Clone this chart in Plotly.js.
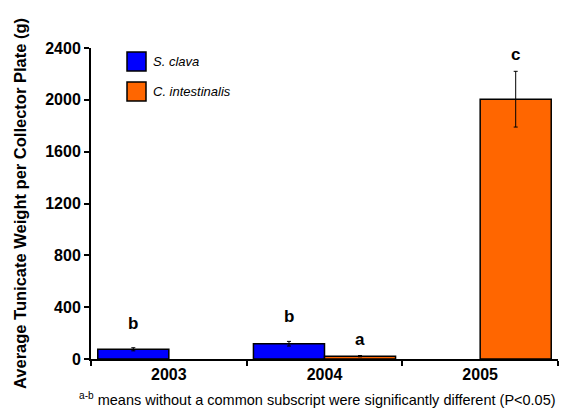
<!DOCTYPE html>
<html><head><meta charset="utf-8">
<script src="https://cdn.plot.ly/plotly-3.0.1.min.js"></script>
<style>body{margin:0;background:#fff}</style>
</head><body>
<div id="chart" style="width:570px;height:410px"></div>
<script>
const years = ['2003', '2004', '2005'];
const seriesNames = ['S. clava', 'C. intestinalis'];
const sClava = [75, 118, 0];
const sClavaErr = [12, 18, 0];
const cIntest = [0, 22, 2005];
const cIntestErr = [0, 5, 215];
const sClavaLetters = ['b', 'b', ''];
const cIntestLetters = ['', 'a', 'c'];
const yTicks = [0, 400, 800, 1200, 1600, 2000, 2400];
const colors = ['#0000ff', '#ff6600'];

const font = 'Liberation Sans, Arial, sans-serif';
const barHalf = 0.228;

function barTrace(name, vals, errs, color) {
  // zero means are not drawn in the reference (no outline, no error cap)
  return {type: 'bar', name: name, x: years, y: vals.map(v => v === 0 ? null : v), showlegend: false,
    marker: {color: color, line: {color: '#000', width: 1.5}},
    error_y: {type: 'data', array: errs, color: '#000', thickness: 1, width: 2, visible: true}};
}
const traces = [
  barTrace(seriesNames[0], sClava, sClavaErr, colors[0]),
  barTrace(seriesNames[1], cIntest, cIntestErr, colors[1])
];

const annotations = [];
years.forEach((yr, i) => {
  if (sClavaLetters[i]) annotations.push({x: i - barHalf, y: sClava[i] + sClavaErr[i], xref: 'x', yref: 'y',
    text: '<b>' + sClavaLetters[i] + '</b>', showarrow: false, yanchor: 'bottom', yshift: 13,
    font: {family: font, size: 17, color: '#000'}});
  if (cIntestLetters[i]) annotations.push({x: i + barHalf, y: cIntest[i] + cIntestErr[i], xref: 'x', yref: 'y',
    text: '<b>' + cIntestLetters[i] + '</b>', showarrow: false, yanchor: 'bottom', yshift: 5,
    font: {family: font, size: 17, color: '#000'}});
});
// custom legend (larger swatches like the reference)
const shapes = [];
seriesNames.forEach((nm, k) => {
  const top = 1 - (4 + k * 30) / 311;
  shapes.push({type: 'rect', xref: 'paper', yref: 'paper',
    x0: 36 / 467, x1: 55 / 467, y0: top - 19 / 311, y1: top,
    fillcolor: colors[k], line: {color: '#000', width: 1.5}});
  annotations.push({xref: 'paper', yref: 'paper', x: 60 / 467, xanchor: 'left',
    y: top - 9.5 / 311, yanchor: 'middle', text: '<i>' + nm + '</i>', showarrow: false,
    font: {family: font, size: 13, color: '#000'}});
});
annotations.push({xref: 'paper', yref: 'paper', x: 1.0, xanchor: 'right', y: -0.128, yanchor: 'middle',
  text: '<sup>a-b</sup> means without a common subscript were significantly different (P<0.05)',
  showarrow: false, font: {family: font, size: 14.5, color: '#000'}});

const layout = {
  width: 570, height: 410,
  margin: {l: 91, r: 12, t: 48, b: 51},
  paper_bgcolor: '#fff', plot_bgcolor: '#fff',
  barmode: 'group', bargap: 0.087, bargroupgap: 0,
  showlegend: false,
  font: {family: font, color: '#000'},
  xaxis: {type: 'category', showline: true, linecolor: '#000', linewidth: 2,
    ticks: 'outside', tickson: 'boundaries', ticklen: 5, tickwidth: 2, tickcolor: '#000',
    tickfont: {family: font, size: 16, color: '#000', weight: 'bold'}, showgrid: false, zeroline: false},
  yaxis: {range: [0, 2400], tickvals: yTicks, ticktext: yTicks.map(String),
    showline: true, linecolor: '#000', linewidth: 2, ticks: 'outside', ticklen: 5, tickwidth: 2,
    tickcolor: '#000', showgrid: false, zeroline: false,
    tickfont: {family: font, size: 16, color: '#000', weight: 'bold'},
    title: {text: '<b>Average Tunicate Weight per Collector Plate (g)</b>', standoff: 14,
      font: {family: font, size: 16.5, color: '#000'}}},
  shapes: shapes,
  annotations: annotations
};

Plotly.newPlot('chart', traces, layout, {displayModeBar: false, staticPlot: true});
</script>
</body></html>
